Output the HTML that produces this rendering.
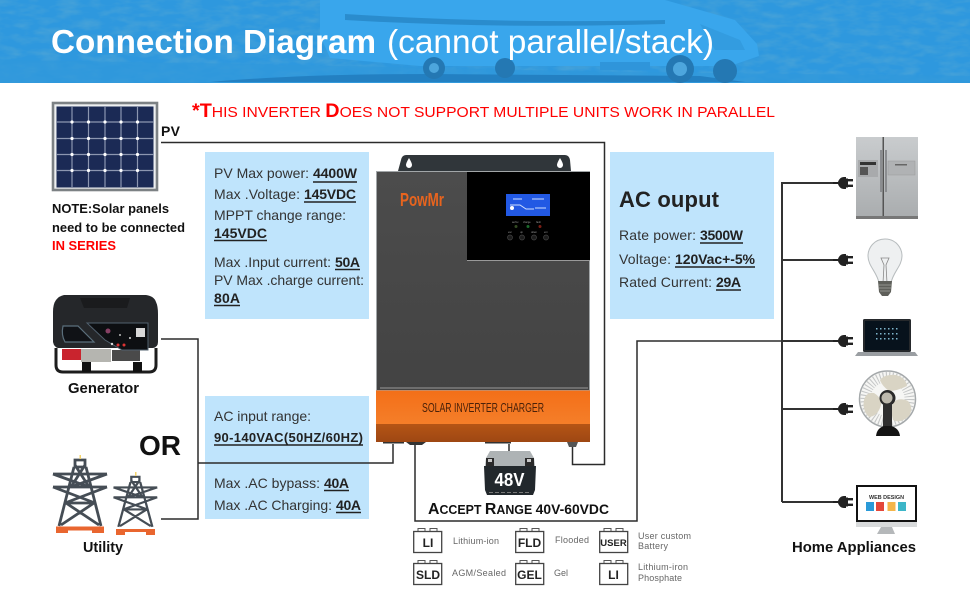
<!DOCTYPE html>
<html><head><meta charset="utf-8"><style>
html,body{margin:0;padding:0;background:#fff}
svg{display:block}
text{font-family:"Liberation Sans",sans-serif;fill:#222}
.b{font-weight:bold;fill:#111}
.t{font-size:14px;fill:#333}
.tb{font-size:14px;font-weight:bold;fill:#222}
.sm{font-size:9px;fill:#666}
.ic{font-weight:bold;fill:#222;text-anchor:middle}
.w{fill:none;stroke:#2b2b2b;stroke-width:1.5}
.w2{fill:none;stroke:#333;stroke-width:2}
.u{stroke:#222;stroke-width:1.4}
</style></head><body>
<svg width="970" height="600" viewBox="0 0 970 600" xmlns="http://www.w3.org/2000/svg">
<defs>
<g id="plug"><path d="M0 -1H5C6 -4 8 -6 11 -6H13V6H11C8 6 6 4 5 1H0Z" fill="#222"/><rect x="13" y="-4.500" width="2" height="9" fill="#222"/><rect x="13" y="-4" width="7" height="2.400" fill="#222"/><rect x="13" y="1.600" width="7" height="2.400" fill="#222"/></g>
<g id="bat"><path d="M5 0V-3H12V0M17 0V-3H24V0" fill="none" stroke="#555" stroke-width="1"/><rect x="0.700" y="0" width="28" height="21" fill="#fff" stroke="#444" stroke-width="1.300"/></g>
<g id="tower" fill="none" stroke="#454d55" stroke-width="2.800">
<path d="M22 1H32V8H22ZM21 8L6 67M33 8L48 67M0 15H54M0 28H54M0 15L36 28M54 15L18 28M22 6L36 28M32 6L18 28M0 28L42 44M54 28L12 44M13 44H41M13 44L46 66M41 44L8 66"/>
</g>
<filter id="nz" x="0" y="0" width="100%" height="100%"><feTurbulence type="fractalNoise" baseFrequency="0.05 0.14" numOctaves="3" seed="4"/><feColorMatrix values="0 0 0 0 0.10  0 0 0 0 0.40  0 0 0 0 0.66  1.100 0 0 0 -0.420"/></filter>
<linearGradient id="gr" x1="0" y1="0" x2="0" y2="1"><stop offset="0" stop-color="#c9ccce"/><stop offset="1" stop-color="#a9acae"/></linearGradient>
<linearGradient id="bd" x1="0" y1="0" x2="0" y2="1"><stop offset="0" stop-color="#4c4c4c"/><stop offset="1" stop-color="#434343"/></linearGradient>
<linearGradient id="or" x1="0" y1="0" x2="0" y2="1"><stop offset="0" stop-color="#f36f18"/><stop offset="1" stop-color="#f57f2a"/></linearGradient>
<linearGradient id="or2" x1="0" y1="0" x2="0" y2="1"><stop offset="0" stop-color="#b55515"/><stop offset="1" stop-color="#9e4713"/></linearGradient>
</defs>

<!-- header -->
<rect width="970" height="83" fill="#2e98de"/>
<rect width="970" height="83" filter="url(#nz)"/>
<path d="M0 60L250 64L430 68L620 72L970 76V83H0Z" fill="#3199dc" opacity=".7"/>
<path d="M210 82Q300 74 430 74L700 76L745 82Z" fill="#2380c2"/>
<path d="M320 0H665L735 20L757 44L759 56L730 66H420L330 58L320 35Z" fill="#39a6ec"/>
<path d="M345 14Q500 24 665 20V24Q500 29 345 20Z" fill="#2a8ccd"/>
<path d="M600 62H650V70H600Z" fill="#2f95da"/>
<path d="M700 24L740 40L745 50L715 50Z" fill="#3198dc" opacity=".7"/>
<circle cx="434" cy="68" r="11" fill="#2478b3"/><circle cx="434" cy="68" r="5" fill="#4da6dd"/>
<circle cx="505" cy="68" r="10" fill="#2478b3"/>
<circle cx="680" cy="69" r="14" fill="#2478b3"/><circle cx="680" cy="69" r="7" fill="#4da6dd"/>
<circle cx="725" cy="71" r="12" fill="#2478b3"/>
<text x="51" y="53" textLength="325" lengthAdjust="spacingAndGlyphs" class="b" style="font-size:33px;fill:#fff">Connection Diagram</text>
<text x="387" y="53" textLength="327" lengthAdjust="spacingAndGlyphs" style="font-size:33px;fill:#fff">(cannot parallel/stack)</text>

<!-- heading -->
<text x="192" y="117" textLength="583" lengthAdjust="spacingAndGlyphs" style="font-weight:normal;fill:#f00;font-size:15px"><tspan style="font-size:19px;font-weight:bold;fill:#f00">*T</tspan>HIS INVERTER <tspan style="font-size:19px;font-weight:bold;fill:#f00">D</tspan>OES NOT SUPPORT MULTIPLE UNITS WORK IN PARALLEL</text>

<!-- blue boxes -->
<rect x="205" y="152" width="164" height="167" fill="#bfe4fc"/>
<rect x="205" y="396" width="164" height="123" fill="#bfe4fc"/>
<rect x="610" y="152" width="164" height="167" fill="#bfe4fc"/>

<!-- wires -->
<path class="w" d="M161 142.500H604.500V464.500H572.500V447"/>
<path class="w" d="M161 339H198V519H161"/>
<path class="w" d="M198 463H393V444"/>
<path class="w" d="M415 445V521H637V341H782"/>
<path class="w2" d="M782 502V183H836M782 260H836M782 341H836M782 409H836M782 502H836"/>
<use href="#plug" transform="translate(833,183)"/>
<use href="#plug" transform="translate(833,260)"/>
<use href="#plug" transform="translate(833,341)"/>
<use href="#plug" transform="translate(833,409)"/>
<use href="#plug" transform="translate(833,502)"/>

<!-- solar panel -->
<rect x="53" y="103" width="104" height="87" fill="#eef0f1" stroke="#7c8184" stroke-width="2.600"/>
<rect x="56.500" y="106.500" width="97" height="81" fill="#1b2a55"/>
<g stroke="#8c96b0" stroke-width="1.200">
<path d="M72 106V187M88.500 106V187M105 106V187M121 106V187M137.500 106V187M56 122H154M56 138.500H154M56 154.500H154M56 170.500H154"/>
</g>
<g fill="#fff">
<circle cx="72" cy="122" r="1.600"/><circle cx="88.500" cy="122" r="1.600"/><circle cx="105" cy="122" r="1.600"/><circle cx="121" cy="122" r="1.600"/><circle cx="137.500" cy="122" r="1.600"/>
<circle cx="72" cy="138.500" r="1.600"/><circle cx="88.500" cy="138.500" r="1.600"/><circle cx="105" cy="138.500" r="1.600"/><circle cx="121" cy="138.500" r="1.600"/><circle cx="137.500" cy="138.500" r="1.600"/>
<circle cx="72" cy="154.500" r="1.600"/><circle cx="88.500" cy="154.500" r="1.600"/><circle cx="105" cy="154.500" r="1.600"/><circle cx="121" cy="154.500" r="1.600"/><circle cx="137.500" cy="154.500" r="1.600"/>
<circle cx="72" cy="170.500" r="1.600"/><circle cx="88.500" cy="170.500" r="1.600"/><circle cx="105" cy="170.500" r="1.600"/><circle cx="121" cy="170.500" r="1.600"/><circle cx="137.500" cy="170.500" r="1.600"/>
</g>
<text x="161" y="136" textLength="19" class="b" style="font-size:14px">PV</text>
<text x="52" y="213" textLength="117" lengthAdjust="spacingAndGlyphs" class="b" style="font-size:13px">NOTE:Solar panels</text>
<text x="52" y="232" textLength="133" lengthAdjust="spacingAndGlyphs" class="b" style="font-size:13px">need to be connected</text>
<text x="52" y="250" textLength="64" lengthAdjust="spacingAndGlyphs" class="b" style="font-size:13px;fill:#f00">IN SERIES</text>

<!-- box 1 text -->
<text x="214" y="178" textLength="95" class="t">PV Max power:</text><text x="313" y="178" textLength="44" class="tb">4400W</text><path class="u" d="M313 182H357"/>
<text x="214" y="199" textLength="86" class="t">Max .Voltage:</text><text x="304" y="199" textLength="52" class="tb">145VDC</text><path class="u" d="M304 202H356"/>
<text x="214" y="220" textLength="132" class="t">MPPT change range:</text>
<text x="214" y="238" textLength="53" class="tb">145VDC</text><path class="u" d="M214 240.500H267"/>
<text x="214" y="267" textLength="117" class="t">Max .Input current:</text><text x="335" y="267" textLength="25" class="tb">50A</text><path class="u" d="M335 269.500H360"/>
<text x="214" y="285" textLength="150" class="t">PV Max .charge current:</text>
<text x="214" y="303" textLength="26" class="tb">80A</text><path class="u" d="M214 305.500H240"/>

<!-- box 2 text -->
<text x="214" y="421" textLength="97" class="t">AC input range:</text>
<text x="214" y="442" textLength="149" class="tb" style="font-size:13px">90-140VAC(50HZ/60HZ)</text><path class="u" d="M214 445H363"/>
<text x="214" y="488" textLength="106" class="t">Max .AC bypass:</text><text x="324" y="488" textLength="25" class="tb">40A</text><path class="u" d="M324 490.500H349"/>
<text x="214" y="510" textLength="118" class="t">Max .AC Charging:</text><text x="336" y="510" textLength="25" class="tb">40A</text><path class="u" d="M336 512.500H361"/>

<!-- box 3 text -->
<text x="619" y="207" textLength="100" class="b" style="font-size:22px;fill:#222">AC ouput</text>
<text x="619" y="240" textLength="77" class="t">Rate power:</text><text x="700" y="240" textLength="43" class="tb">3500W</text><path class="u" d="M700 243H743"/>
<text x="619" y="264" textLength="52" class="t">Voltage:</text><text x="675" y="264" textLength="80" class="tb">120Vac+-5%</text><path class="u" d="M675 267H755"/>
<text x="619" y="287" textLength="93" class="t">Rated Current:</text><text x="716" y="287" textLength="25" class="tb">29A</text><path class="u" d="M716 290H741"/>

<!-- inverter -->
<path d="M398 171L401 160Q402 155 406 155H565Q569 155 570 160L571 171Z" fill="#30363a"/>
<path d="M409 158Q406 163 406 165A3 3 0 0 0 412 165Q412 163 409 158ZM560 158Q557 163 557 165A3 3 0 0 0 563 165Q563 163 560 158Z" fill="#fff"/>
<rect x="376" y="171" width="214" height="220" fill="url(#bd)"/>
<rect x="376.500" y="171.500" width="213" height="219" fill="none" stroke="#a2a6a8" stroke-width="1"/>
<rect x="380" y="387" width="208" height="2" fill="#6e6e6e"/>
<rect x="467" y="172" width="123" height="88.500" fill="#000"/>
<rect x="467" y="260" width="123" height="1" fill="#9a9a9a"/>
<rect x="506" y="194" width="44" height="22" fill="#2259e4"/>
<path d="M510 205H520L526 209H534M513 199H522M532 199H544M535 208H546" stroke="#cfe0ff" stroke-width="1" fill="none"/>
<circle cx="512" cy="208" r="2" fill="#fff"/>
<text x="400" y="206" textLength="44" lengthAdjust="spacingAndGlyphs" class="b" style="font-size:18px;fill:#e8641e">PowMr</text>
<g style="font-size:2.500px"><text x="512" y="223" style="fill:#999">ac/inv</text><text x="523" y="223" style="fill:#999">charge</text><text x="536" y="223" style="fill:#999">fault</text><text x="508" y="233" style="fill:#999">esc</text><text x="520" y="233" style="fill:#999">up</text><text x="531" y="233" style="fill:#999">down</text><text x="544" y="233" style="fill:#999">ent</text></g>
<circle cx="516" cy="226.500" r="1.500" fill="#334a22"/><circle cx="528" cy="226.500" r="1.500" fill="#1c6a2c"/><circle cx="540" cy="226.500" r="1.500" fill="#7c1d14"/>
<g fill="#1c1c1c" stroke="#444" stroke-width="0.700"><circle cx="510" cy="237.500" r="2.500"/><circle cx="522" cy="237.500" r="2.500"/><circle cx="534" cy="237.500" r="2.500"/><circle cx="546" cy="237.500" r="2.500"/></g>
<rect x="376" y="390.500" width="214" height="35" fill="url(#or)"/>
<rect x="376" y="424" width="214" height="18" fill="url(#or2)"/>
<rect x="383" y="442" width="21" height="1.500" fill="#333"/><path d="M406 442H426L422 445H410Z" fill="#333"/><rect x="485" y="442" width="26" height="1.500" fill="#333"/><path d="M567 442H578L576 447H569Z" fill="#555"/>
<text x="422" y="412" textLength="122" lengthAdjust="spacingAndGlyphs" style="font-size:13px;fill:#4a2109">SOLAR INVERTER CHARGER</text>

<!-- 48V battery -->
<path class="w" d="M509 444V452"/>
<path d="M490 451H530L534 458L535 466H485L486 458Z" fill="#aeb3b5"/>
<rect x="486" y="458" width="8" height="9" fill="#2a2a2a"/><rect x="525" y="458" width="9" height="9" fill="#2a2a2a"/>
<rect x="488" y="459" width="4" height="3" fill="#c8c8c8"/><rect x="527" y="459" width="4" height="3" fill="#c8c8c8"/>
<path d="M484 466H536L535 490L533 495H487L485 490Z" fill="#22282c"/>
<path d="M489 492.500H531" stroke="#777" stroke-width="1" stroke-dasharray="4 2"/>
<text x="509.500" y="486" text-anchor="middle" textLength="30" lengthAdjust="spacingAndGlyphs" class="b" style="font-size:18px;fill:#fff">48V</text>

<text x="428" y="514" textLength="181" lengthAdjust="spacingAndGlyphs" class="b" style="font-size:12.500px"><tspan style="font-size:16px">A</tspan>CCEPT <tspan style="font-size:16px">R</tspan>ANGE <tspan style="font-size:14px">40V-60VDC</tspan></text>

<!-- battery icons -->
<use href="#bat" x="413" y="531.500"/><use href="#bat" x="515" y="531.500"/><use href="#bat" x="599" y="531.500"/>
<use href="#bat" x="413" y="563.500"/><use href="#bat" x="515" y="563.500"/><use href="#bat" x="599" y="563.500"/>
<text x="428" y="547" class="ic" style="font-size:12px">LI</text>
<text x="529.500" y="547" class="ic" style="font-size:12px">FLD</text>
<text x="613.500" y="546" class="ic" style="font-size:9.500px">USER</text>
<text x="428" y="579" class="ic" style="font-size:12px">SLD</text>
<text x="529.500" y="579" class="ic" style="font-size:12px">GEL</text>
<text x="613.500" y="579" class="ic" style="font-size:12px">LI</text>
<text x="453" y="544" textLength="46" class="sm">Lithium-ion</text>
<text x="555" y="543" textLength="34" class="sm">Flooded</text>
<text x="638" y="539" textLength="53" class="sm">User custom</text>
<text x="638" y="549" textLength="30" class="sm">Battery</text>
<text x="452" y="576" textLength="54" class="sm">AGM/Sealed</text>
<text x="554" y="576" textLength="14" class="sm">Gel</text>
<text x="638" y="570" textLength="50" class="sm">Lithium-iron</text>
<text x="638" y="581" textLength="44" class="sm">Phosphate</text>

<!-- generator -->
<path d="M56 348V365Q56 372 63 372H149Q156 372 156 365V348" fill="none" stroke="#1d1d1d" stroke-width="3"/>
<rect x="62" y="349" width="19" height="11" fill="#c9242e"/>
<rect x="81" y="349" width="30" height="13" fill="#b5b5b0"/>
<rect x="112" y="350" width="28" height="11" fill="#4a4a4a"/>
<path d="M64 295H146Q154 296 156 302Q158 306 158 314V342Q158 347 153 348H58Q54 347 53 342V312Q53 304 56 300Q59 296 64 295Z" fill="#25272a"/>
<path d="M80 298H130L127 308H84Z" fill="#1a1b1d"/>
<path d="M87 323H148V350H122L105 340Z" fill="#0d0f12" stroke="#51606e" stroke-width="1"/>
<path d="M63 326H78L94 342H65Q61 335 63 326Z" fill="#101216" stroke="#5b6f7c" stroke-width="1.200"/>
<rect x="136" y="328" width="9" height="9" fill="#d8d8d8"/>
<circle cx="108" cy="331" r="2.500" fill="#b58" opacity=".7"/>
<circle cx="118" cy="345" r="1.500" fill="#d33"/><circle cx="124" cy="345" r="1.500" fill="#d33"/><circle cx="112" cy="344" r="1.200" fill="#ddd"/><circle cx="130" cy="338" r="1" fill="#ddd"/><circle cx="120" cy="335" r="1" fill="#bbb"/>
<rect x="82" y="362" width="9" height="10" fill="#111"/><rect x="133" y="362" width="9" height="10" fill="#111"/>
<text x="68" y="393" textLength="71" lengthAdjust="spacingAndGlyphs" class="b" style="font-size:15px">Generator</text>
<text x="139" y="455" textLength="42" class="b" style="font-size:28px;fill:#111">OR</text>

<!-- utility -->
<use href="#tower" transform="translate(53,459)"/>
<use href="#tower" transform="translate(113.500,476) scale(0.810,0.760)"/>
<rect x="56" y="526.500" width="48" height="4" fill="#e9662f"/><path d="M56 530H68V533H56ZM92 530H104V533H92Z" fill="#e9662f"/>
<rect x="116" y="529" width="39" height="3" fill="#e9662f"/><path d="M116 532H125V535H116ZM146 532H155V535H146Z" fill="#e9662f"/>
<rect x="79.500" y="455" width="1.500" height="4" fill="#f5d36a"/><rect x="135" y="472" width="1.500" height="4" fill="#f5d36a"/>
<text x="83" y="552" textLength="40" lengthAdjust="spacingAndGlyphs" class="b" style="font-size:15px">Utility</text>

<!-- fridge -->
<rect x="856" y="137" width="62" height="82" fill="url(#gr)"/>
<rect x="856" y="216" width="62" height="3" fill="#777"/>
<rect x="882.500" y="137" width="1.500" height="79" fill="#555"/>
<rect x="880" y="150" width="2" height="42" fill="#8b8d90"/><rect x="885" y="150" width="2" height="42" fill="#8b8d90"/>
<rect x="858" y="160" width="20" height="17" fill="#a8aaac"/><rect x="860" y="162" width="16" height="3" fill="#333"/><rect x="860" y="167" width="8" height="8" fill="#555"/>
<rect x="888" y="161" width="27" height="14" fill="#b0b2b4" stroke="#999" stroke-width="0.500"/><rect x="895" y="164" width="12" height="1.500" fill="#666"/>

<!-- bulb -->
<path d="M885 239C874 239 868 248 868 256C868 266 877 272 879 283H891C893 272 902 266 902 256C902 248 896 239 885 239Z" fill="#eef0f1" stroke="#b7bcbe" stroke-width="1"/>
<path d="M883 283L884 265L881 258H889L886 265L887 283" fill="none" stroke="#888" stroke-width="0.800"/>
<path d="M878 281H892L891 292L888 296H882L879 292Z" fill="#5e5f5a"/>
<path d="M878 285H892M879 288H891M880 291H890" stroke="#a5a5a0" stroke-width="0.800"/>

<!-- laptop -->
<rect x="863" y="319" width="48" height="33" rx="1.500" fill="#26292c"/>
<rect x="865" y="321" width="44" height="29" fill="#07121c"/>
<g fill="#7fb6cc">
<rect x="876" y="328" width="1.500" height="1.500"/><rect x="880" y="328" width="1.500" height="1.500"/><rect x="884" y="328" width="1.500" height="1.500"/><rect x="888" y="328" width="1.500" height="1.500"/><rect x="892" y="328" width="1.500" height="1.500"/><rect x="896" y="328" width="1.500" height="1.500"/>
<rect x="876" y="333" width="1.500" height="1.500"/><rect x="880" y="333" width="1.500" height="1.500"/><rect x="884" y="333" width="1.500" height="1.500"/><rect x="888" y="333" width="1.500" height="1.500"/><rect x="892" y="333" width="1.500" height="1.500"/><rect x="896" y="333" width="1.500" height="1.500"/>
<rect x="876" y="338" width="1.500" height="1.500"/><rect x="880" y="338" width="1.500" height="1.500"/><rect x="884" y="338" width="1.500" height="1.500"/><rect x="888" y="338" width="1.500" height="1.500"/><rect x="892" y="338" width="1.500" height="1.500"/><rect x="896" y="338" width="1.500" height="1.500"/>
</g>
<path d="M855 356L858 352H915L918 356Z" fill="#9a9ea2"/>

<!-- fan -->
<circle cx="887.500" cy="399" r="28" fill="#f6f6f4" stroke="#a4a8aa" stroke-width="1.500"/>
<circle cx="887.500" cy="399" r="22" fill="none" stroke="#c4c6c6" stroke-width="10" stroke-dasharray="1 2"/>
<path d="M880 380Q884 374 896 375Q906 378 907 386Q897 391 889 391Q882 386 880 380Z" fill="#d9d4c4"/>
<path d="M864 400Q866 392 874 393Q882 398 881 405Q878 416 869 417Q862 410 864 400Z" fill="#d9d4c4"/>
<path d="M893 402Q900 397 908 401Q914 408 909 416Q900 424 893 420Q890 410 893 402Z" fill="#d9d4c4"/>
<circle cx="887.500" cy="398" r="8" fill="#2a2a2a"/><circle cx="887" cy="398" r="5.500" fill="#bdb9ad"/>
<rect x="883" y="404" width="9" height="24" fill="#2f2f2f"/>
<path d="M876 436Q877 428 884 426H891Q899 428 900 436Z" fill="#141414"/>

<!-- monitor -->
<rect x="856" y="485" width="61" height="37" fill="#111"/>
<rect x="858" y="487" width="57" height="33" fill="#fff"/>
<text x="886.500" y="499" text-anchor="middle" textLength="35" lengthAdjust="spacingAndGlyphs" class="b" style="font-size:5.500px;fill:#333">WEB DESIGN</text>
<rect x="866" y="502" width="8" height="9" fill="#2a9ad8"/><rect x="876" y="502" width="8" height="9" fill="#e4473a"/><rect x="887.500" y="502" width="8" height="9" fill="#f4b54a"/><rect x="898" y="502" width="8" height="9" fill="#3db6c8"/>
<rect x="856" y="522" width="61" height="5" fill="#d8dadb"/>
<path d="M881 527H892L895 534H877Z" fill="#b5b8ba"/>
<text x="792" y="552" textLength="124" lengthAdjust="spacingAndGlyphs" class="b" style="font-size:15px">Home Appliances</text>
</svg>
</body></html>
